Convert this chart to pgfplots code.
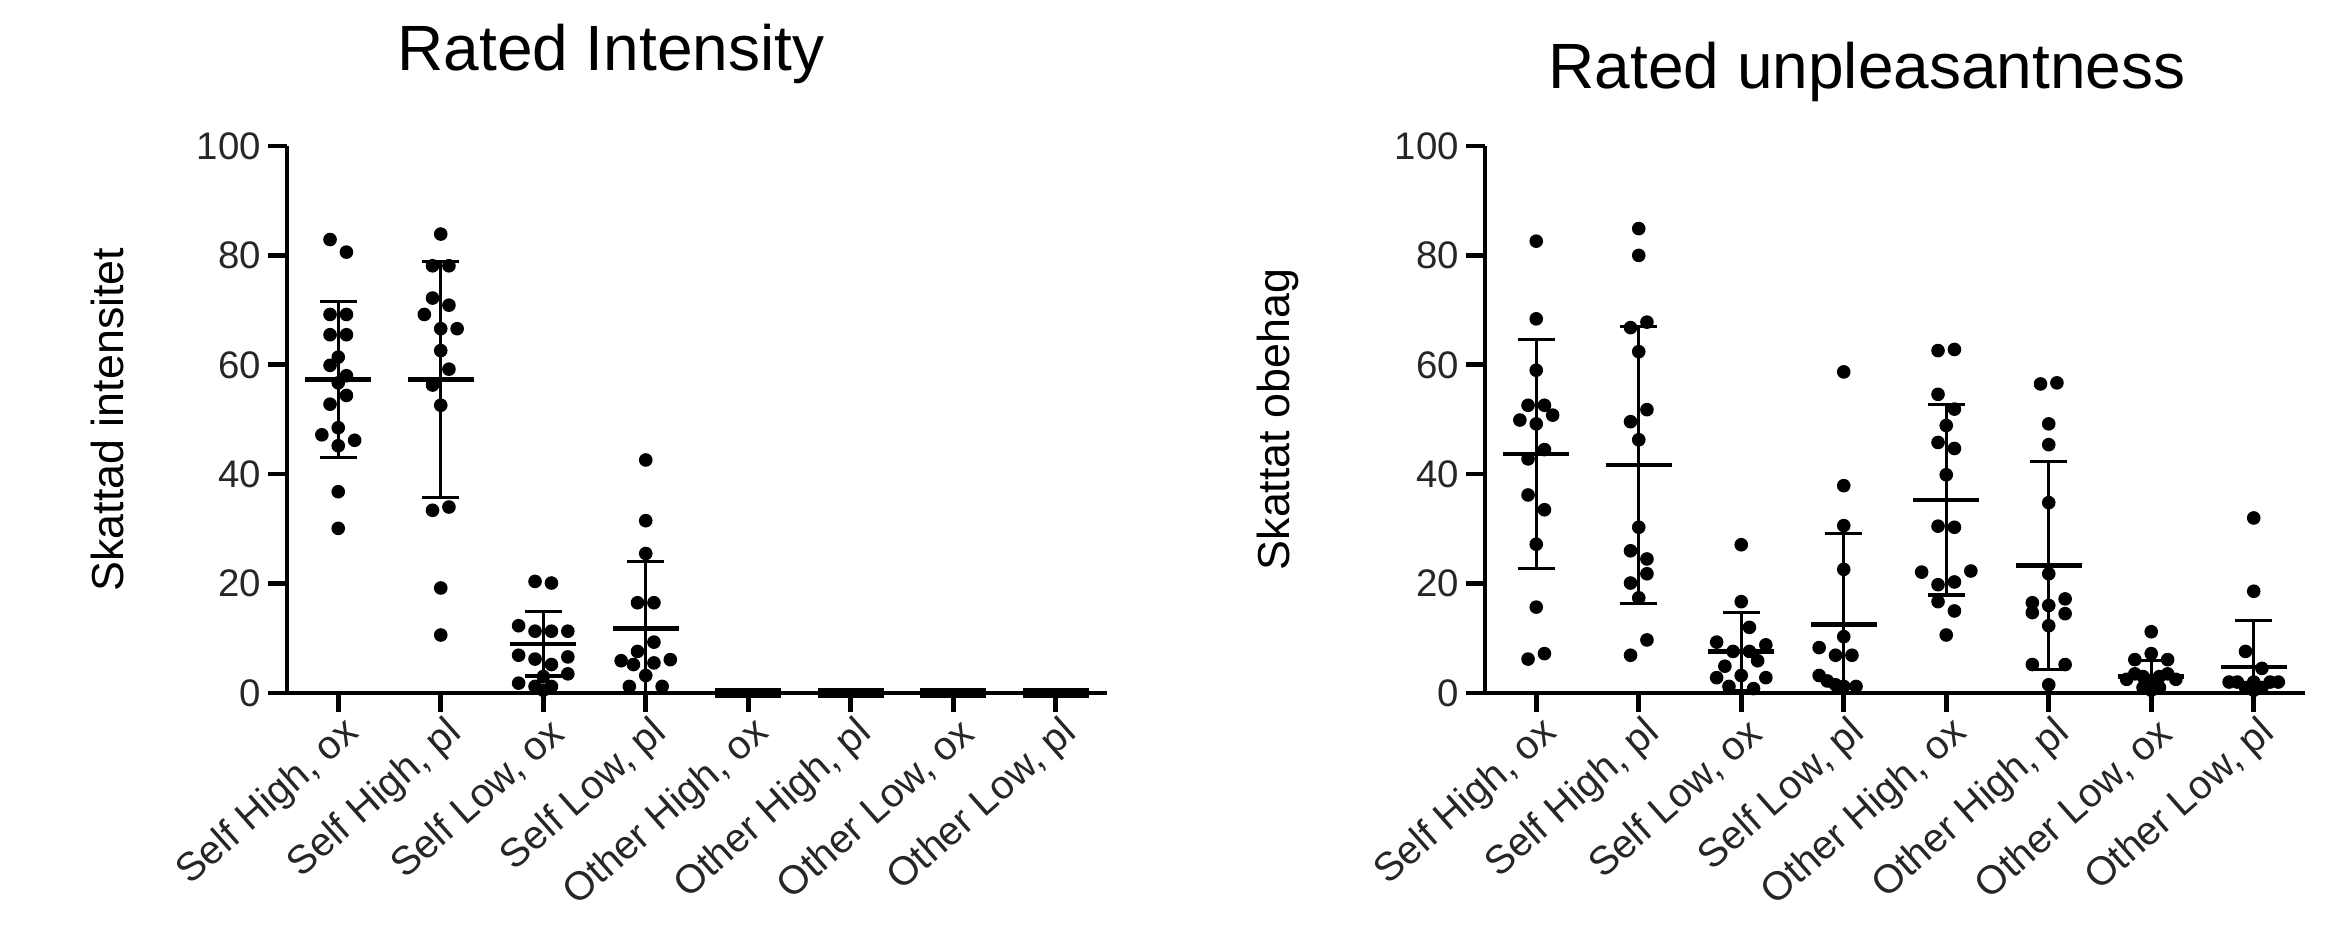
\documentclass[border=0pt]{standalone}
\usepackage{pgfplots}
\pgfplotsset{compat=1.18}
\usepackage{fontspec}
\setmainfont{Liberation Sans}

\pgfplotstableread{
x y
-0.08 82.9
0.08 80.6
-0.08 69.2
0.08 69.2
-0.08 65.5
0.08 65.5
0 61.4
-0.08 59.9
0.08 58.0
0 56.7
0.08 54.4
-0.08 52.8
0 48.5
-0.16 47.2
0.16 46.2
0 45.2
0 36.8
0 30.1
1 83.9
0.92 78.1
1.08 78.1
0.92 72.2
1.08 70.9
0.84 69.2
1 66.6
1.16 66.6
1 62.6
1.08 59.2
0.92 56.3
1 52.6
1.08 34.0
0.92 33.4
1 19.2
1 10.6
1.92 20.4
2.08 20.1
1.76 12.3
1.92 11.3
2.08 11.3
2.24 11.3
1.76 6.9
1.92 6.2
2.08 5.2
2.24 6.6
2.24 3.5
2 3.0
1.76 1.8
1.92 1.2
2.08 1.2
2 0.5
3 42.6
3 31.5
3 25.5
2.92 16.5
3.08 16.5
3.08 9.3
2.92 7.6
2.76 5.9
2.88 5.2
3.08 5.5
3.24 6.1
3 3.2
2.84 1.2
3.16 1.2
}\leftpts

\pgfplotstableread{
x y
0 82.6
0 68.4
0 59.0
-0.08 52.6
0.08 52.6
-0.16 49.9
0.16 50.8
0 49.2
0.08 44.5
-0.08 42.8
-0.08 36.2
0.08 33.5
0 27.2
0 15.7
-0.08 6.2
0.08 7.2
1 84.9
1 80.0
1.08 67.8
0.92 66.8
1 62.4
1.08 51.8
0.92 49.6
1 46.3
1 30.3
0.92 26.0
1.08 24.5
1.08 21.8
0.92 20.1
1 17.4
1.08 9.7
0.92 6.9
2 27.1
2 16.7
2.08 12.0
1.76 9.3
2.24 8.8
1.92 7.6
2.08 7.6
1.84 4.9
2.16 5.9
2 3.2
1.76 2.8
2.24 2.8
1.88 1.2
2.12 0.8
3 58.7
3 37.9
3 30.6
3 22.6
3 10.3
2.76 8.3
2.92 6.9
3.08 6.9
2.76 3.2
2.84 2.2
2.92 1.5
3 1.2
3.12 1.2
3.92 62.6
4.08 62.8
3.92 54.6
4.08 51.9
4 48.9
3.92 45.8
4.08 44.7
4 39.9
3.92 30.5
4.08 30.3
3.76 22.1
4.24 22.3
3.92 19.8
4.08 20.3
3.92 16.7
4.08 15.0
4 10.6
4.92 56.5
5.08 56.7
5 49.2
5 45.4
5 34.8
5 21.8
4.84 16.5
5.16 17.2
5 16.0
4.84 14.7
5.16 14.5
5 12.3
4.84 5.2
5.16 5.2
5 1.5
6 11.2
6 7.2
5.84 6.1
6.16 6.1
5.84 3.5
5.92 3.0
6.08 3.0
6.16 3.5
5.76 2.5
6.24 2.5
6 2.0
5.92 1.0
6.08 1.0
6 0.5
7 32.0
7 18.6
6.92 7.6
7.08 4.5
6.76 2.0
6.84 2.0
7 2.0
7.16 2.0
7.24 2.0
6.92 1.0
7.08 1.0
7 0.5
}\rightpts

\pgfplotsset{
  dotplot/.style={
    scale only axis, width=205pt, height=136.75pt,
    xmin=-0.5, xmax=7.5, ymin=0, ymax=100,
    axis x line=bottom, axis y line=left,
    axis line style={line width=1.15pt, -},
    every tick/.style={line width=1.15pt, black},
    major tick length=4.8pt, tick align=outside,
    xtick={0,...,7}, ytick={0,20,...,100},
    xticklabels={{Self High, ox},{Self High, pl},{Self Low, ox},{Self Low, pl},{Other High, ox},{Other High, pl},{Other Low, ox},{Other Low, pl}},
    xticklabel style={rotate=41.5, anchor=east, font=\fontsize{10}{12}\selectfont, text=black!85, inner sep=1.5pt, yshift=-5.5pt, xshift=2pt},
    yticklabel style={font=\fontsize{9.6}{11}\selectfont, text=black!85, inner sep=1.5pt},
    /pgf/number format/assume math mode=true,
    label style={font=\fontsize{11.2}{13}\selectfont},
    title style={font=\fontsize{16}{19}\selectfont, anchor=center},
  },
  dots/.style={only marks, mark=*, mark size=1.5pt, black},
  meansd/.style={only marks, mark=-, mark size=8.2pt, mark options={line width=1.1pt, black}, black,
    error bars/.cd, y dir=both, y explicit, error mark=|,
    error bar style={draw=black, line width=0.85pt},
    error mark options={mark size=4.6pt, line width=0.85pt, black}},
  zeromean/.style={only marks, mark=-, mark size=8.2pt, mark options={line width=2.6pt, black}, black},
}

\begin{document}
\begin{tikzpicture}
\path[use as bounding box] (0,0) rectangle (584.5pt,232.75pt);

\begin{axis}[dotplot, at={(71.75pt,59.5pt)}, anchor=south west,
  title={Rated Intensity}, title style={at={(axis description cs:0.395,1)}, yshift=17pt},
  ylabel={Skattad intensitet}, ylabel style={at={(axis description cs:-0.2195,0.5)}, anchor=center}]
\addplot[dots] table[x=x,y=y] {\leftpts};
\addplot[meansd] coordinates {
(0,57.3) +- (0,14.3)
(1,57.3) +- (0,21.6)
(2,9.0) +- (0,5.9)
(3,11.8) +- (0,12.2)
};
\addplot[zeromean] coordinates {(4,0) (5,0) (6,0) (7,0)};
\end{axis}

\begin{axis}[dotplot, at={(371.25pt,59.5pt)}, anchor=south west,
  title={Rated unpleasantness}, title style={at={(axis description cs:0.466,1)}, yshift=12.4pt},
  ylabel={Skattat obehag}, ylabel style={at={(axis description cs:-0.252,0.5)}, anchor=center}]
\addplot[dots] table[x=x,y=y] {\rightpts};
\addplot[meansd] coordinates {
(0,43.7) +- (0,20.9)
(1,41.7) +- (0,25.3)
(2,7.6) +- (0,7.1)
(3,12.5) +- (0,16.7)
(4,35.3) +- (0,17.4)
(5,23.3) +- (0,19.0)
(6,3.0) +- (0,2.9)
(7,4.7) +- (0,8.5)
};
\end{axis}
\end{tikzpicture}
\end{document}
